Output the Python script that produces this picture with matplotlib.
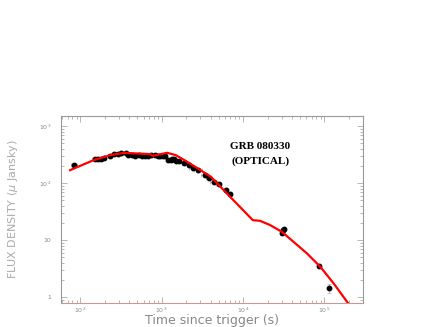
import matplotlib.pyplot as plt
import numpy as np

# Punkty pomiarowe (czas [s], strumień [uJy])
t_obs = [84, 150, 165, 180, 195, 234, 260, 290, 320, 360, 390, 430, 470, 520, 570, 620, 680, 730,
         840, 900, 960, 1030, 1100, 1200, 1290, 1350, 1420, 1500, 1650, 1870, 2150, 2400, 2800,
         3390, 3800, 4380, 5000, 6160, 6900, 30000, 31000, 31500, 87000, 115000]
f_obs = [207, 265, 270, 262, 280, 305, 320, 330, 336, 340, 315, 312, 305, 310, 300, 305, 300, 310,
         315, 300, 305, 295, 300, 255, 250, 260, 270, 245, 240, 225, 205, 185, 170,
         138, 125, 104, 95, 75, 64, 13.3, 14.8, 15.6, 3.5, 1.43]
t_err = [8, 10, 10, 10, 10, 12, 12, 14, 15, 15, 15, 20, 20, 20, 20, 25, 25, 25,
         30, 30, 30, 35, 35, 40, 40, 45, 45, 50, 100, 100, 120, 250, 300,
         350, 300, 400, 400, 300, 300, 500, 500, 500, 1500, 1500]
f_err = [15, 12, 12, 12, 12, 12, 12, 12, 12, 12, 12, 12, 12, 12, 12, 12, 12, 12,
         12, 12, 12, 12, 12, 12, 12, 12, 12, 12, 10, 10, 10, 10, 10,
         8, 8, 7, 6, 5, 5, 1.0, 1.0, 1.0, 0.3, 0.25]

# Krzywa modelu
t_mod = [75, 146, 234, 343, 730, 770, 1170, 1490, 2070, 2980, 4030, 6460, 13200,
         16200, 21500, 30000, 41900, 61100, 89300, 130000, 190000, 215000]
f_mod = [169, 253, 310, 340, 323, 302, 340, 310, 236, 170, 129, 64, 22.4,
         21.8, 18.4, 14.0, 9.3, 5.85, 3.4, 1.74, 0.83, 0.65]

szary = '#999999'

fig = plt.figure(figsize=(4.36, 3.27), dpi=100)
ax = fig.add_axes([0.14, 0.073, 0.693, 0.572])

ax.errorbar(t_obs, f_obs, xerr=t_err, yerr=f_err, fmt='o', color='black', ms=3.2,
            ecolor='#b0b0b0', elinewidth=0.6, capsize=1.2, capthick=0.5, zorder=2)
ax.plot(t_mod, f_mod, color='red', lw=1.6, zorder=3)

ax.set_xscale('log')
ax.set_yscale('log')
ax.set_xlim(58, 3e5)
ax.set_ylim(0.785, 1500)

ax.set_yticks([1, 10, 100, 1000])
ax.set_yticklabels(['1', '10', r'10$^2$', r'10$^3$'])
ax.set_xticks([100, 1000, 10000, 100000])
ax.set_xticklabels([r'10$^2$', r'10$^3$', r'10$^4$', r'10$^5$'])

for s in ax.spines.values():
    s.set_color(szary)
    s.set_linewidth(0.8)
ax.spines['bottom'].set_color('#c89898')
ax.tick_params(which='both', direction='in', top=True, right=True, colors=szary,
               labelsize=4.5, labelcolor='#888888', width=0.5)
ax.tick_params(which='major', length=4)
ax.tick_params(which='minor', length=2)
ax.tick_params(axis='y', pad=7)
ax.tick_params(axis='x', pad=2)

ax.set_xlabel('Time since trigger (s)', fontsize=9, color='#888888')
ax.xaxis.set_label_coords(0.5, -0.092)
ax.xaxis.label.set_va('center')
ax.set_ylabel(r'FLUX DENSITY ($\mu$ Jansky)', fontsize=8, color='#aaaaaa')
ax.yaxis.set_label_coords(-0.135, 0.5)

ax.text(0.66, 0.84, 'GRB 080330', transform=ax.transAxes, ha='center', va='center',
        fontsize=8, family='Liberation Serif', fontweight='bold')
ax.text(0.66, 0.76, '(OPTICAL)', transform=ax.transAxes, ha='center', va='center',
        fontsize=8, family='Liberation Serif', fontweight='bold')

fig.savefig('out.png', dpi=100)
